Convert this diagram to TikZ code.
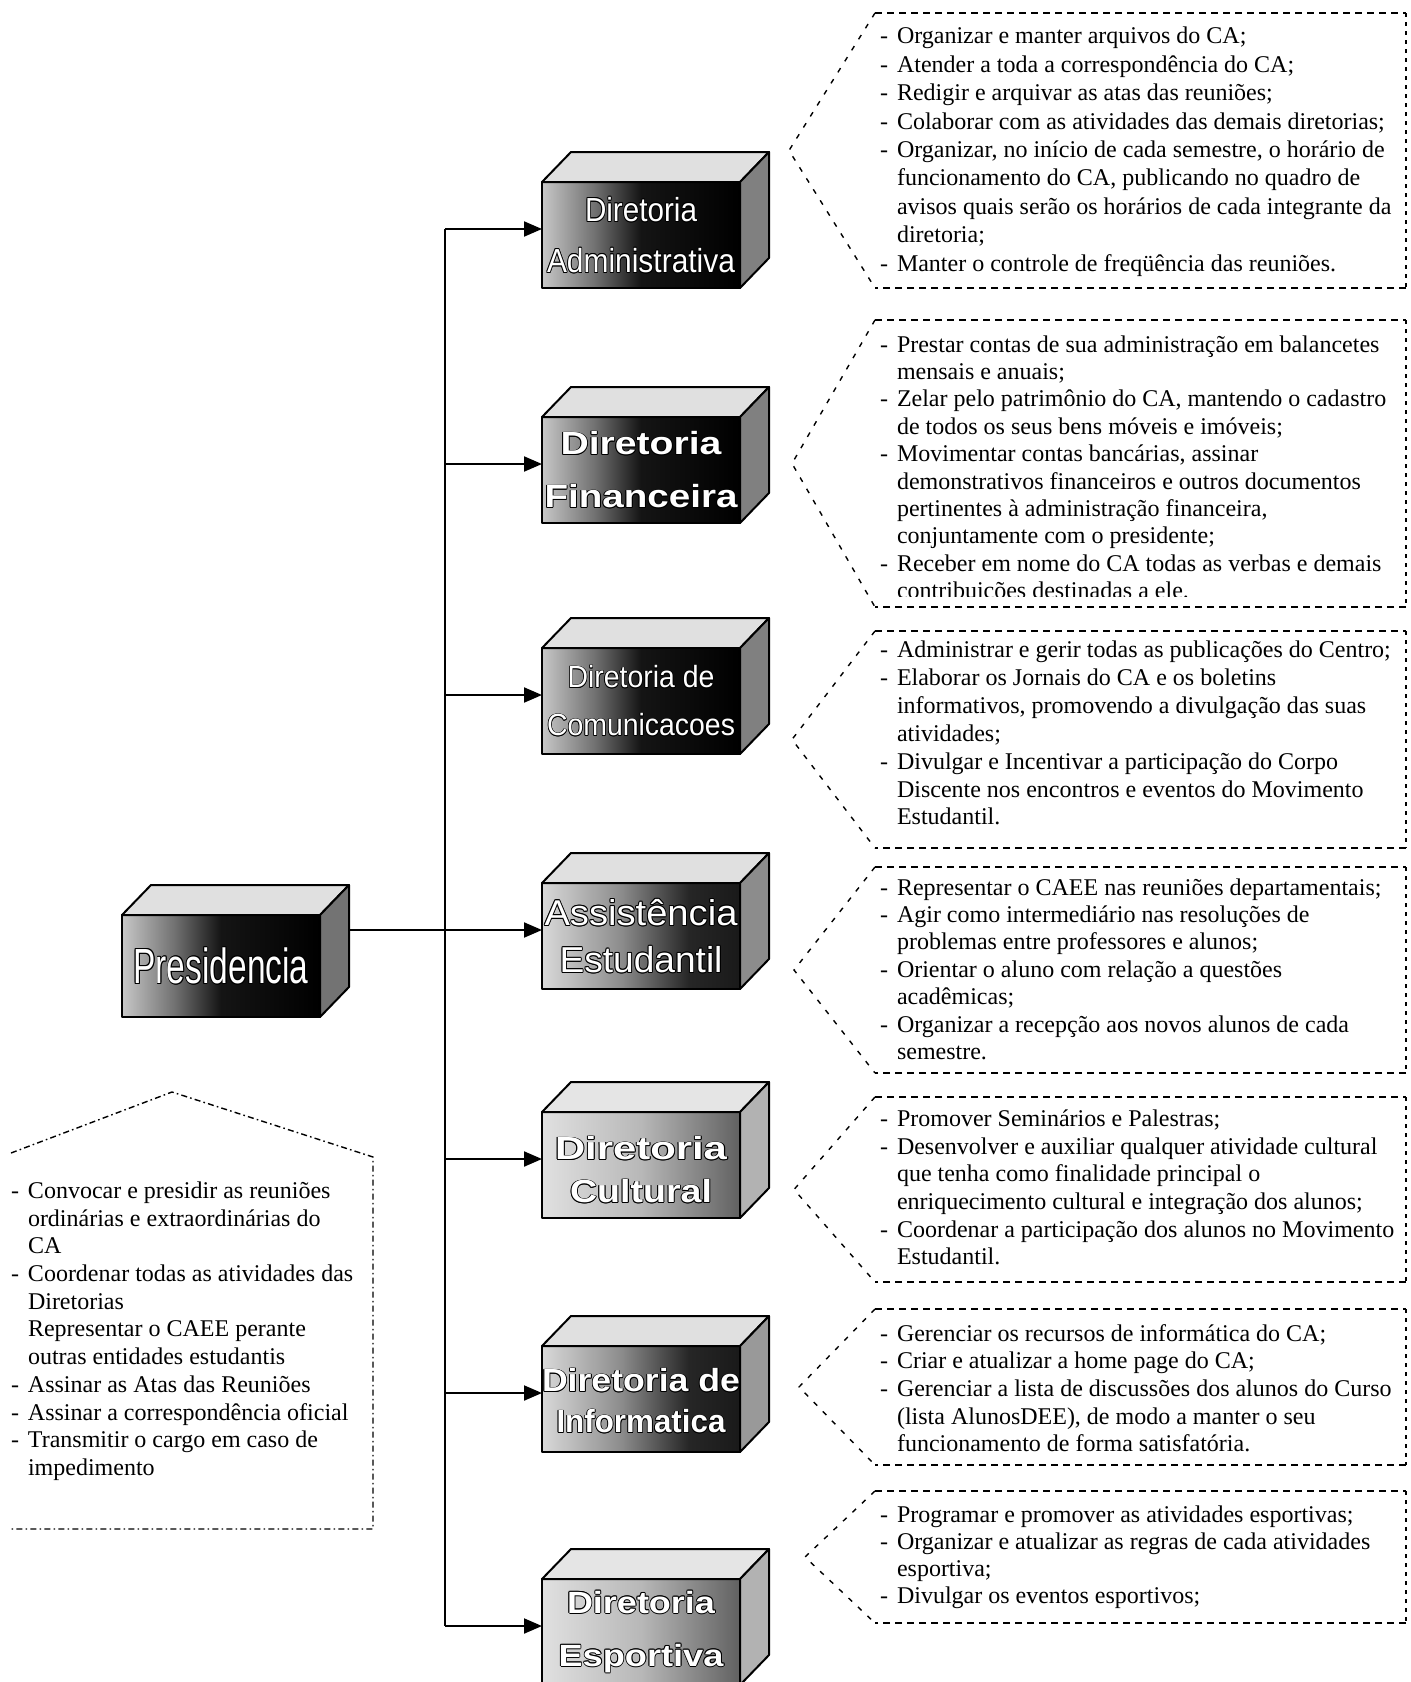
\documentclass[tikz,border=0pt]{standalone}
\usepackage{fontspec}
\setmainfont{Liberation Serif}
\newfontfamily\lblfont{Liberation Sans}
\usepackage{graphicx}
\usetikzlibrary{calc,arrows.meta}

% face shadings of the blocks
\pgfdeclarehorizontalshading{facedark}{100bp}{color(0bp)=(black!22); color(25bp)=(black!22); color(38bp)=(black!55); color(50bp)=(black!92); color(75bp)=(black); color(100bp)=(black)}
\pgfdeclarehorizontalshading{facemid}{100bp}{color(0bp)=(black!15); color(25bp)=(black!15); color(45bp)=(black!45); color(62bp)=(black!85); color(75bp)=(black!90); color(100bp)=(black!90)}
\pgfdeclarehorizontalshading{facelight}{100bp}{color(0bp)=(black!12); color(25bp)=(black!12); color(50bp)=(black!28); color(75bp)=(black!62); color(100bp)=(black!62)}

% white lettering with a black rim
\newcommand\outlinetext[1]{\leavevmode
  \rlap{\kern-0.5pt\textcolor{black}{#1}}%
  \rlap{\kern0.5pt\textcolor{black}{#1}}%
  \rlap{\raisebox{0.5pt}{\textcolor{black}{#1}}}%
  \rlap{\raisebox{-0.5pt}{\textcolor{black}{#1}}}%
  \rlap{\kern-0.35pt\raisebox{0.35pt}{\textcolor{black}{#1}}}%
  \rlap{\kern0.35pt\raisebox{0.35pt}{\textcolor{black}{#1}}}%
  \rlap{\kern-0.35pt\raisebox{-0.35pt}{\textcolor{black}{#1}}}%
  \rlap{\kern0.35pt\raisebox{-0.35pt}{\textcolor{black}{#1}}}%
  \textcolor{white}{#1}}
\newcommand\lbl[3]{\resizebox{#1}{#2}{\outlinetext{#3}}}

% list items of the duty boxes
\newcommand\ditem{\makebox[8.5pt][l]{-}}
\newcommand\dcont{\hspace*{8.5pt}}

\tikzset{
  edge/.style={draw=black, line width=1pt, line join=round},
  front/.style={edge, shade, rectangle, minimum width=99pt, minimum height=53pt,
    inner sep=0pt, outer sep=0pt, align=center, font=\fontsize{20}{20}\selectfont\lblfont},
  conn/.style={line width=1pt},
  feed/.style={conn, -{Triangle[length=9pt,width=7.5pt]}},
  rim/.style={line width=0.7pt, dash pattern=on 3.5pt off 2.5pt},
  rimside/.style={line width=0.7pt, dash pattern=on 2pt off 2.5pt},
  rimslant/.style={line width=0.7pt, dash pattern=on 2.5pt off 4pt},
  presrim/.style={line width=0.7pt, dash pattern=on 3pt off 1.6pt on 0.8pt off 1.6pt},
  duty/.style={anchor=north west, inner sep=0pt, outer sep=0pt, align=left},
}

% top and right faces of a block
\newcommand\cubesides[3]{%
  \draw[edge, fill=#2] (#1.north west) -- ++(29,-30) -- ($(#1.north east)+(29,-30)$) -- (#1.north east) -- cycle;
  \draw[edge, fill=#3] (#1.north east) -- ++(29,-30) -- ($(#1.south east)+(29,-30)$) -- (#1.south east) -- cycle;}

% dashed pointer frame: name, top, bottom, tip x
\newcommand\dutyframe[4]{%
  \coordinate (#1a) at (875,#2);
  \coordinate (#1b) at (1406,#2);
  \coordinate (#1c) at (1406,#3);
  \coordinate (#1d) at (875,#3);
  \coordinate (#1v) at (#4,{(#2+#3)/2});
  \draw[rim] (#1a) -- (#1b);
  \draw[rimside] (#1b) -- (#1c);
  \draw[rim] (#1c) -- (#1d);
  \draw[rimslant] (#1a) -- (#1v) -- (#1d);}

\begin{document}
\begin{tikzpicture}[x=0.5pt, y=-0.5pt]
\useasboundingbox (0,0) rectangle (1411,1682);

% ---------- blocks ----------
\node[front, shading=facedark, minimum height=51pt] (pres) at (221,966) {\lbl{87.5pt}{18.5pt}{Presidencia}};
\cubesides{pres}{black!12}{black!55}

\node[front, shading=facedark] (adm) at (641,235)
  {\lbl{56pt}{12.5pt}{Diretoria}\\[5.5pt]\lbl{94pt}{12.5pt}{Administrativa}};
\cubesides{adm}{black!12}{black!50}

\node[front, shading=facedark, font=\fontsize{20}{20}\selectfont\lblfont\bfseries] (fin) at (641,470)
  {\lbl{80.5pt}{12pt}{Diretoria}\\[6.5pt]\lbl{96.5pt}{12pt}{Financeira}};
\cubesides{fin}{black!12}{black!50}

\node[front, shading=facedark] (com) at (641,701)
  {\lbl{73.5pt}{11.5pt}{Diretoria de}\\[4pt]\lbl{94pt}{11.5pt}{Comunicacoes}};
\cubesides{com}{black!12}{black!50}

\node[front, shading=facemid] (ast) at (641,936)
  {\lbl{96.5pt}{13.5pt}{Assistência}\\[3.5pt]\lbl{81.5pt}{13.5pt}{Estudantil}};
\cubesides{ast}{black!12}{black!45}

\node[front, shading=facelight, font=\fontsize{20}{20}\selectfont\lblfont\bfseries] (cul) at (641,1165)
  {\rule{0pt}{17pt}\lbl{86pt}{12pt}{Diretoria}\\[1.5pt]\lbl{71pt}{12pt}{Cultural}};
\cubesides{cul}{black!10}{black!30}

\node[front, shading=facemid, font=\fontsize{20}{20}\selectfont\lblfont\bfseries] (inf) at (641,1399)
  {\rule{0pt}{14pt}\lbl{99pt}{12pt}{Diretoria de}\\[0.5pt]\lbl{84.5pt}{12pt}{Informatica}};
\cubesides{inf}{black!12}{black!40}

\node[front, shading=facelight, font=\fontsize{20}{20}\selectfont\lblfont\bfseries] (esp) at (641,1632)
  {\lbl{74pt}{11.5pt}{Diretoria}\\[6.5pt]\lbl{82.5pt}{11.5pt}{Esportiva}};
\cubesides{esp}{black!10}{black!30}

% ---------- connectors ----------
\coordinate (presback) at ($(pres.north east)+(29,0)$);
\coordinate (t1) at (445,229);
\coordinate (t2) at (445,464);
\coordinate (t3) at (445,695);
\coordinate (t4) at (445,930);
\coordinate (t5) at (445,1159);
\coordinate (t6) at (445,1393);
\coordinate (t7) at (445,1626);
\draw[conn] (t1) -- (t7);
\draw[conn] (presback |- t4) -- (t4);
\draw[feed] (t1) -- (t1 -| adm.west);
\draw[feed] (t2) -- (t2 -| fin.west);
\draw[feed] (t3) -- (t3 -| com.west);
\draw[feed] (t4) -- (t4 -| ast.west);
\draw[feed] (t5) -- (t5 -| cul.west);
\draw[feed] (t6) -- (t6 -| inf.west);
\draw[feed] (t7) -- (t7 -| esp.west);

% ---------- duty frames ----------
\dutyframe{fa}{13}{288}{789}
\dutyframe{fb}{320}{607}{792}
\dutyframe{fc}{631}{848}{792}
\dutyframe{fd}{867}{1073}{794}
\dutyframe{fe}{1097}{1282}{794}
\dutyframe{ff}{1309}{1465}{799}
\dutyframe{fg}{1491}{1623}{805}

\coordinate (pa) at (172,1092);
\coordinate (pl) at (11,1153);
\coordinate (pr) at (373,1157);
\coordinate (pbr) at (373,1529);
\coordinate (pbl) at (11,1529);
\draw[presrim] (pl) -- (pa) -- (pr) -- (pbr) -- (pbl);

% ---------- duty texts ----------
\node[duty, font=\fontsize{12}{14.2}\selectfont] (admduty) at (880,24) {%
\strut\ditem Organizar e manter arquivos do CA;\\
\ditem Atender a toda a correspondência do CA;\\
\ditem Redigir e arquivar as atas das reuniões;\\
\ditem Colaborar com as atividades das demais diretorias;\\
\ditem Organizar, no início de cada semestre, o horário de\\
\dcont funcionamento do CA, publicando no quadro de\\
\dcont avisos quais serão os horários de cada integrante da\\
\dcont diretoria;\\
\ditem Manter o controle de freqüência das reuniões.};

\begin{scope}
\clip (780,300) rectangle (1411,596);
\node[duty, font=\fontsize{12}{13.7}\selectfont] (finduty) at (880,333) {%
\strut\ditem Prestar contas de sua administração em balancetes\\
\dcont mensais e anuais;\\
\ditem Zelar pelo patrimônio do CA, mantendo o cadastro\\
\dcont de todos os seus bens móveis e imóveis;\\
\ditem Movimentar contas bancárias, assinar\\
\dcont demonstrativos financeiros e outros documentos\\
\dcont pertinentes à administração financeira,\\
\dcont conjuntamente com o presidente;\\
\ditem Receber em nome do CA todas as verbas e demais\\
\dcont contribuições destinadas a ele.};
\end{scope}

\node[duty, font=\fontsize{12}{13.95}\selectfont] (comduty) at (880,638) {%
\strut\ditem Administrar e gerir todas as publicações do Centro;\\
\ditem Elaborar os Jornais do CA e os boletins\\
\dcont informativos, promovendo a divulgação das suas\\
\dcont atividades;\\
\ditem Divulgar e Incentivar a participação do Corpo\\
\dcont Discente nos encontros e eventos do Movimento\\
\dcont Estudantil.};

\node[duty, font=\fontsize{12}{13.7}\selectfont] (astduty) at (880,876) {%
\strut\ditem Representar o CAEE nas reuniões departamentais;\\
\ditem Agir como intermediário nas resoluções de\\
\dcont problemas entre professores e alunos;\\
\ditem Orientar o aluno com relação a questões\\
\dcont acadêmicas;\\
\ditem Organizar a recepção aos novos alunos de cada\\
\dcont semestre.};

\node[duty, font=\fontsize{12}{13.85}\selectfont] (culduty) at (880,1107) {%
\strut\ditem Promover Seminários e Palestras;\\
\ditem Desenvolver e auxiliar qualquer atividade cultural\\
\dcont que tenha como finalidade principal o\\
\dcont enriquecimento cultural e integração dos alunos;\\
\ditem Coordenar a participação dos alunos no Movimento\\
\dcont Estudantil.};

\node[duty, font=\fontsize{12}{13.8}\selectfont] (infduty) at (880,1322) {%
\strut\ditem Gerenciar os recursos de informática do CA;\\
\ditem Criar e atualizar a home page do CA;\\
\ditem Gerenciar a lista de discussões dos alunos do Curso\\
\dcont (lista AlunosDEE), de modo a manter o seu\\
\dcont funcionamento de forma satisfatória.};

\node[duty, font=\fontsize{12}{13.4}\selectfont] (espduty) at (880,1504) {%
\strut\ditem Programar e promover as atividades esportivas;\\
\ditem Organizar e atualizar as regras de cada atividades\\
\dcont esportiva;\\
\ditem Divulgar os eventos esportivos;};

\node[duty, font=\fontsize{12}{13.85}\selectfont] (presduty) at (11,1179) {%
\strut\ditem Convocar e presidir as reuniões\\
\dcont ordinárias e extraordinárias do\\
\dcont CA\\
\ditem Coordenar todas as atividades das\\
\dcont Diretorias\\
\dcont Representar o CAEE perante\\
\dcont outras entidades estudantis\\
\ditem Assinar as Atas das Reuniões\\
\ditem Assinar a correspondência oficial\\
\ditem Transmitir o cargo em caso de\\
\dcont impedimento};

\end{tikzpicture}
\end{document}
